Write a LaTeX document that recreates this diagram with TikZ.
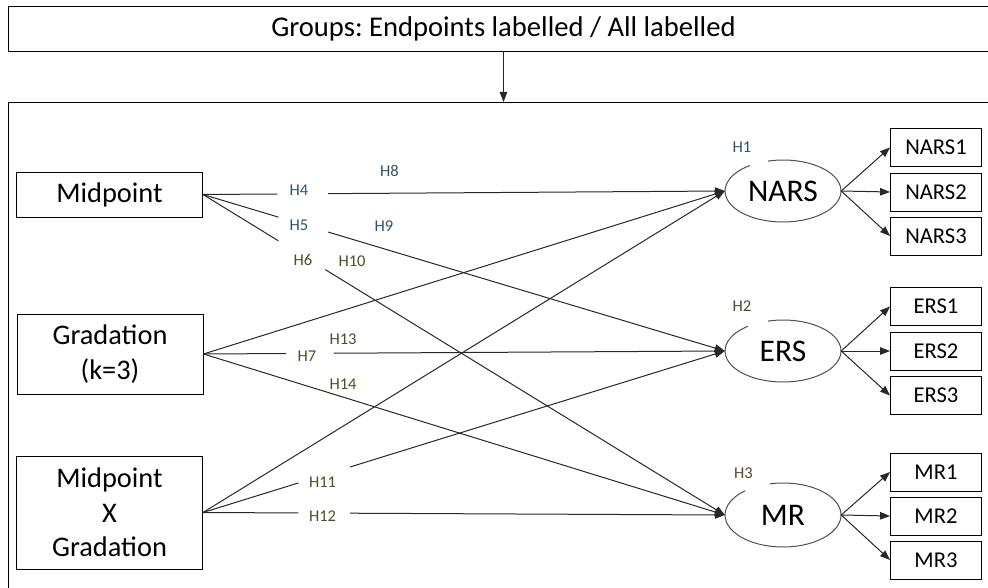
\documentclass[tikz,border=0pt]{standalone}
\usepackage{fontspec}
\setmainfont{Carlito}
\usetikzlibrary{arrows.meta,calc,shapes.geometric}
\definecolor{lngray}{RGB}{40,40,40}
\definecolor{ellgray}{RGB}{80,80,80}
\definecolor{hteal}{RGB}{45,85,105}
\definecolor{holive}{RGB}{85,75,40}
\frenchspacing
\begin{document}
\begin{tikzpicture}[x=1pt,y=-1pt,
  box/.style={draw=black,line width=0.95pt,inner sep=0pt,align=center},
  leftbox/.style={box,minimum width=186,font=\fontsize{28.4}{34.5}\selectfont},
  indbox/.style={box,minimum width=91,minimum height=38,font=\fontsize{22.6}{26}\selectfont},
  latent/.style={ellipse,draw=none,minimum width=116,minimum height=62,inner sep=0pt,font=\fontsize{31.5}{36}\selectfont},
  ln/.style={draw=lngray,line width=1pt},
  arr/.style={ln,-{Triangle[length=10,width=7.5]}},
  ell/.style={draw=ellgray,line width=1pt},
  hl/.style={inner sep=0pt,font=\fontsize{16.5}{19}\selectfont}]
\useasboundingbox (0,0) rectangle (988,588);
\fill[white] (0,0) rectangle (988,588);

% title and frame
\node[box,minimum width=991,minimum height=45,font=\fontsize{28.6}{33}\selectfont] (title) at (503.5,28.5) {Groups: Endpoints labelled / All labelled};
\node[draw=black,line width=0.95pt,minimum width=1000,minimum height=520,anchor=north west,inner sep=0pt] (frame) at (8,102) {};
\draw[arr] (title.south) -- (title.south |- frame.north);

% left boxes
\node[leftbox,minimum height=45] (mid) at (109.5,194.5) {Midpoint};
\node[leftbox,minimum height=80] (grad) at (110,354) {Gradation\\(k=3)};
\node[leftbox,minimum height=113] (mxg) at (109.5,512.5) {Midpoint\\X\\Gradation};

% latent variables
\node[latent] (nars) at (783,191) {NARS};
\node[latent] (ers) at (783,351) {ERS};
\node[latent] (mr) at (783,515) {MR};
\draw[ell] ($(nars.center)+(255:58 and 31)$) arc[start angle=255,end angle=595.3,x radius=58,y radius=31];
\draw[ell] ($(ers.center)+(255:58 and 31)$) arc[start angle=255,end angle=592.9,x radius=58,y radius=31];
\draw[ell] ($(mr.center)+(257:58 and 32)$) arc[start angle=257,end angle=589.1,x radius=58,y radius=32];

% indicators
\node[indbox] (nars1) at (936,147.5) {NARS1};
\node[indbox] (nars2) at (936,192) {NARS2};
\node[indbox] (nars3) at (936,236) {NARS3};
\node[indbox] (ers1) at (936,306.5) {ERS1};
\node[indbox] (ers2) at (936,351) {ERS2};
\node[indbox] (ers3) at (936,395.5) {ERS3};
\node[indbox] (mr1) at (936,472) {MR1};
\node[indbox] (mr2) at (936,516) {MR2};
\node[indbox] (mr3) at (936,560) {MR3};

\foreach \l/\i in {nars/nars1,nars/nars2,nars/nars3,ers/ers1,ers/ers2,ers/ers3,mr/mr1,mr/mr2,mr/mr3}
  \draw[arr] (\l.east) -- (\i.west);

% paths from Midpoint
\draw[ln] (mid.east) -- ($(mid.east)!0.1426!(nars.west)$);
\draw[arr] ($(mid.east)!0.240!(nars.west)$) -- (nars.west);
\draw[ln] (mid.east) -- ($(mid.east)!0.1445!(ers.west)$);
\draw[arr] ($(mid.east)!0.240!(ers.west)$) -- (ers.west);
\draw[ln] (mid.east) -- ($(mid.east)!0.1445!(mr.west)$);
\draw[arr] ($(mid.east)!0.2344!(mr.west)$) -- (mr.west);

% paths from Gradation
\draw[arr] (grad.east) -- (nars.west);
\draw[ln] (grad.east) -- ($(grad.east)!0.158!(ers.west)$);
\draw[arr] ($(grad.east)!0.25!(ers.west)$) -- (ers.west);
\draw[arr] (grad.east) -- (mr.west);

% paths from Midpoint X Gradation
\draw[arr] (mxg.east) -- (nars.west);
\draw[ln] (mxg.east) -- ($(mxg.east)!0.183!(ers.west)$);
\draw[arr] ($(mxg.east)!0.282!(ers.west)$) -- (ers.west);
\draw[ln] (mxg.east) -- ($(mxg.east)!0.183!(mr.west)$);
\draw[arr] ($(mxg.east)!0.282!(mr.west)$) -- (mr.west);

% hypothesis labels
\node[hl,text=hteal] (h1) at (742,147) {H1};
\node[hl,text=holive] (h2) at (742,306.5) {H2};
\node[hl,text=holive] (h3) at (743.5,473) {H3};
\node[hl,text=hteal] (h4) at (299,190.5) {H4};
\node[hl,text=hteal] (h5) at (299,225.5) {H5};
\node[hl,text=holive] (h6) at (303,259.5) {H6};
\node[hl,text=holive] (h7) at (307,356) {H7};
\node[hl,text=hteal] (h8) at (389.5,170.5) {H8};
\node[hl,text=hteal] (h9) at (384,226.5) {H9};
\node[hl,text=holive] (h10) at (352,261.5) {H10};
\node[hl,text=holive] (h11) at (322.5,482.5) {H11};
\node[hl,text=holive] (h12) at (322.5,516.5) {H12};
\node[hl,text=holive] (h13) at (343,339) {H13};
\node[hl,text=holive] (h14) at (343,384.5) {H14};
\end{tikzpicture}
\end{document}
